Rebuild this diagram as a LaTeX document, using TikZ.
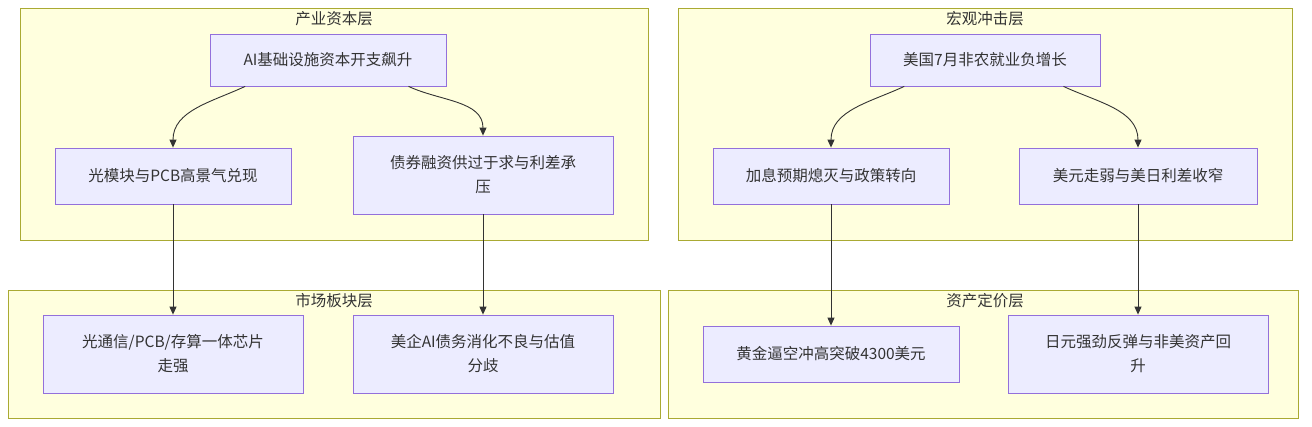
\documentclass[tikz,border=0pt]{standalone}
\usepackage{fontspec}
\setmainfont{Noto Sans CJK SC}
\usetikzlibrary{arrows.meta,calc}
\definecolor{layerfill}{HTML}{FFFFDE}
\definecolor{layerline}{HTML}{AAAA33}
\definecolor{boxfill}{HTML}{ECECFF}
\definecolor{boxline}{HTML}{9370DB}
\definecolor{edgecol}{HTML}{333333}

\begin{document}
\begin{tikzpicture}[x=1pt,y=-1pt,font=\fontsize{15.5}{24}\selectfont,text=edgecol,
  layer/.style={draw=layerline,fill=layerfill,line width=0.8pt,inner sep=0pt},
  box/.style={draw=boxline,fill=boxfill,line width=0.8pt,align=center,inner sep=0pt,
    minimum width=236pt,minimum height=56pt},
  tallbox/.style={box,minimum width=260pt,minimum height=78pt},
  edge/.style={draw=edgecol,line width=0.9pt,-{Triangle[length=8pt,width=7pt]}}]
 \useasboundingbox (0,0) rectangle (1312,426);
 % layers
 \node[layer,minimum width=628pt,minimum height=232pt] (indL) at (334,124) {};
 \node[layer,minimum width=652pt,minimum height=128pt] (mktL) at (334,354) {};
 \node[layer,minimum width=614pt,minimum height=232pt] (macL) at (985,124) {};
 \node[layer,minimum width=630pt,minimum height=128pt] (astL) at (983,354) {};
 \node (indT) at (334,19) {产业资本层};
 \node (mktT) at (334,301) {市场板块层};
 \node (macT) at (985,19) {宏观冲击层};
 \node (astT) at (985,301) {资产定价层};
 % left side
 \node[box,minimum height=52pt] (capex) at (328,60) {AI基础设施资本开支飙升};
 \node[box] (optic) at (173,176) {光模块与PCB高景气兑现};
 \node[tallbox] (bond) at (483,175) {债券融资供过于求与利差承\\压};
 \node[tallbox] (chips) at (173,354) {光通信/PCB/存算一体芯片\\走强};
 \node[tallbox] (debt) at (483,354) {美企AI债务消化不良与估值\\分歧};
 % right side
 \node[box,minimum width=230pt,minimum height=52pt] (nfp) at (985,60) {美国7月非农就业负增长};
 \node[box] (rate) at (831,176) {加息预期熄灭与政策转向};
 \node[box,minimum width=238pt] (usd) at (1138,176) {美元走弱与美日利差收窄};
 \node[box,minimum width=256pt] (gold) at (831,354) {黄金逼空冲高突破4300美元};
 \node[tallbox] (yen) at (1138,354) {日元强劲反弹与非美资产回\\升};
 % edges
 \draw[edge] ($(capex.south west)!0.15!(capex.south east)$) to[out=-155,in=90] (optic.north);
 \draw[edge] ($(capex.south west)!0.84!(capex.south east)$) to[out=-25,in=90] (bond.north);
 \draw[edge] ($(nfp.south west)!0.15!(nfp.south east)$) to[out=-155,in=90] (rate.north);
 \draw[edge] ($(nfp.south west)!0.84!(nfp.south east)$) to[out=-25,in=90] (usd.north);
 \draw[edge] (optic) -- (chips);
 \draw[edge] (bond) -- (debt);
 \draw[edge] (rate) -- (gold);
 \draw[edge] (usd) -- (yen);
\end{tikzpicture}
\end{document}
